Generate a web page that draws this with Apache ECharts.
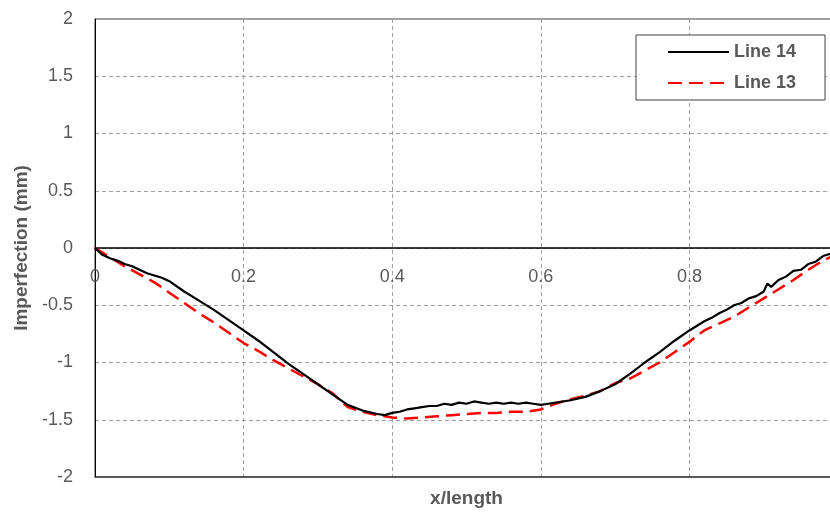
<!DOCTYPE html>
<html>
<head>
<meta charset="utf-8">
<script src="https://cdn.jsdelivr.net/npm/echarts@6/dist/echarts.min.js"></script>
<style>html,body{margin:0;padding:0;background:#fff}#c{width:830px;height:512px}</style>
</head>
<body>
<div id="c"></div>
<script>
// Line 14 (black, solid)
const x14 = [0,0.01,0.02,0.03,0.04,0.05,0.06,0.07,0.08,0.09,0.10,0.12,0.14,0.16,0.18,0.20,0.22,0.24,0.26,0.28,0.30,0.32,0.34,0.36,0.38,0.39,0.40,0.41,0.42,0.43,0.44,0.45,0.46,0.47,0.48,0.49,0.50,0.51,0.52,0.53,0.54,0.55,0.56,0.57,0.58,0.59,0.60,0.61,0.62,0.64,0.66,0.68,0.70,0.72,0.74,0.76,0.78,0.80,0.82,0.83,0.84,0.85,0.86,0.87,0.88,0.89,0.90,0.905,0.91,0.92,0.93,0.94,0.95,0.96,0.97,0.98,0.99,1.0];
const y14 = [0,-0.06,-0.09,-0.11,-0.14,-0.16,-0.19,-0.22,-0.24,-0.26,-0.29,-0.38,-0.46,-0.54,-0.63,-0.72,-0.81,-0.91,-1.01,-1.10,-1.19,-1.28,-1.37,-1.42,-1.45,-1.46,-1.44,-1.43,-1.41,-1.40,-1.39,-1.38,-1.38,-1.36,-1.37,-1.35,-1.36,-1.34,-1.35,-1.36,-1.35,-1.36,-1.35,-1.36,-1.35,-1.36,-1.37,-1.36,-1.35,-1.33,-1.30,-1.25,-1.19,-1.10,-1.00,-0.91,-0.81,-0.72,-0.64,-0.61,-0.57,-0.54,-0.50,-0.48,-0.44,-0.42,-0.38,-0.31,-0.34,-0.28,-0.25,-0.20,-0.19,-0.14,-0.12,-0.07,-0.05,-0.07];
// Line 13 (red, dashed)
const x13 = [0,0.02,0.04,0.06,0.08,0.10,0.12,0.14,0.16,0.18,0.20,0.22,0.24,0.26,0.28,0.30,0.32,0.34,0.36,0.38,0.40,0.42,0.44,0.46,0.48,0.50,0.52,0.54,0.56,0.58,0.60,0.62,0.64,0.66,0.68,0.70,0.72,0.74,0.76,0.78,0.80,0.82,0.84,0.86,0.88,0.90,0.92,0.94,0.96,0.98,0.99,1.0];
const y13 = [0,-0.08,-0.16,-0.23,-0.30,-0.39,-0.48,-0.57,-0.65,-0.74,-0.83,-0.90,-0.98,-1.05,-1.12,-1.19,-1.27,-1.39,-1.43,-1.46,-1.48,-1.49,-1.48,-1.47,-1.46,-1.45,-1.44,-1.44,-1.43,-1.43,-1.41,-1.36,-1.32,-1.29,-1.25,-1.18,-1.14,-1.07,-1.00,-0.91,-0.82,-0.72,-0.66,-0.60,-0.52,-0.44,-0.36,-0.28,-0.19,-0.11,-0.08,-0.06];
const seriesNames = ['Line 14','Line 13'];
const xTicks = {min:0, max:1, interval:0.2};
const yTicks = {min:-2, max:2, interval:0.5};

const pair = (xs, ys) => xs.map((x,i)=>[x, ys[i]]);
const chart = echarts.init(document.getElementById('c'), null, {renderer:'canvas'});
const font = 'Liberation Sans';
const gray = '#595959';
const gridTop = 19, gridH = 458;
chart.setOption({
  animation:false,
  grid:{left:95, top:gridTop, width:743, height:gridH, show:true, borderColor:'#404040', borderWidth:1, outerBoundsMode:'none', containLabel:false},
  legend:{
    orient:'vertical', left:636, top:35, data:seriesNames,
    backgroundColor:'#fff', borderColor:'#404040', borderWidth:1,
    padding:[8,29,8,31], itemGap:13, itemWidth:61, itemHeight:16,
    itemStyle:{opacity:0},
    textStyle:{fontFamily:font, fontSize:18, fontWeight:'bold', color:gray}
  },
  xAxis:[{
    type:'value', min:xTicks.min, max:xTicks.max, interval:xTicks.interval,
    position:'bottom', offset:-(gridH/2),
    axisLine:{onZero:false, lineStyle:{color:'#000', width:1.5}},
    axisTick:{show:false},
    axisLabel:{fontFamily:font, fontSize:18, color:gray, margin:20},
    splitLine:{show:true, lineStyle:{color:'#a0a0a0', type:[4,3], width:1}}
  },{
    type:'value', min:0, max:1, position:'bottom',
    axisLine:{onZero:false, show:true, lineStyle:{color:'#404040', width:1.5}},
    axisTick:{show:false}, axisLabel:{show:false}, splitLine:{show:false},
    name:'x/length', nameLocation:'middle', nameGap:12,
    nameTextStyle:{fontFamily:font, fontSize:19, fontWeight:'bold', color:gray}
  }],
  yAxis:{
    type:'value', min:yTicks.min, max:yTicks.max, interval:yTicks.interval,
    axisLine:{show:true, onZero:false, lineStyle:{color:'#000', width:1}},
    axisTick:{show:false},
    axisLabel:{fontFamily:font, fontSize:18, color:gray, margin:22},
    splitLine:{show:true, lineStyle:{color:'#a0a0a0', type:[4,3], width:1}},
    name:'Imperfection (mm)', nameLocation:'middle', nameGap:60,
    nameTextStyle:{fontFamily:font, fontSize:19, fontWeight:'bold', color:gray}
  },
  series:[
    {name:seriesNames[0], type:'line', data:pair(x14,y14), showSymbol:false, symbol:'none', smooth:false,
     lineStyle:{color:'#000', width:2.2}, itemStyle:{color:'#000'}, z:3},
    {name:seriesNames[1], type:'line', data:pair(x13,y13), showSymbol:false, symbol:'none', smooth:false,
     lineStyle:{color:'#ff0000', width:2.5, type:[14,7]}, itemStyle:{color:'#ff0000'}, z:2}
  ]
});
</script>
</body>
</html>
